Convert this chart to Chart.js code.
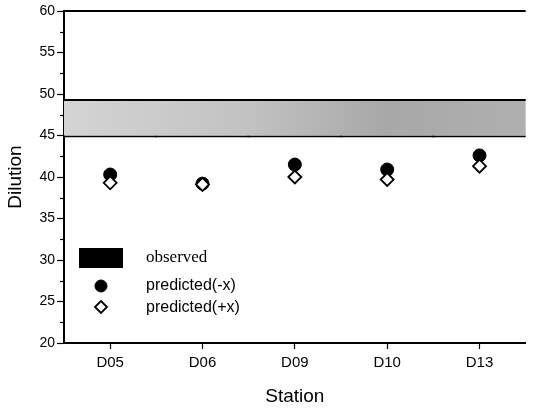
<!DOCTYPE html>
<html lang="en">
<head>
  <meta charset="UTF-8" />
  <title>Dilution by Station</title>
  <script src="https://cdn.jsdelivr.net/npm/chart.js"></script>
  <style>
    html, body { margin: 0; padding: 0; background: #fff; }
    #wrap { width: 534px; height: 409px; }
  </style>
</head>
<body>
  <div id="wrap"><canvas id="dilutionChart" width="534" height="409"></canvas></div>

  <script>
    // data
    const stations = ['D05', 'D06', 'D09', 'D10', 'D13'];
    const predictedMinus = [40.3, 39.2, 41.5, 40.9, 42.6];
    const predictedPlus = [39.3, 39.1, 40.0, 39.7, 41.3];
    const observedLow = 44.75;
    const observedHigh = 49.4;
    const yTicks = [20, 25, 30, 35, 40, 45, 50, 55, 60];
    const yMinorTicks = [22.5, 27.5, 32.5, 37.5, 42.5, 47.5, 52.5, 57.5];
    const legendLabels = ['observed', 'predicted(-x)', 'predicted(+x)'];

    const SANS = '"Liberation Sans", Arial, Helvetica, sans-serif';
    const SERIF = '"Liberation Serif", "Times New Roman", serif';

    function bandFill(context) {
      const area = context.chart.chartArea;
      if (!area) return '#bbb';
      const g = context.chart.ctx.createLinearGradient(area.left, 0, area.right, 0);
      g.addColorStop(0, '#d4d4d4');
      g.addColorStop(0.4, '#c2c2c2');
      g.addColorStop(0.7, '#a8a8a8');
      g.addColorStop(1, '#b0b0b0');
      return g;
    }

    // top frame line, minor y ticks and the in-plot legend
    const extras = {
      id: 'extras',
      afterDraw(chart) {
        const ctx = chart.ctx;
        const area = chart.chartArea;
        const y = chart.scales.y;
        ctx.save();
        ctx.strokeStyle = '#000';
        ctx.lineWidth = 2;
        ctx.beginPath();
        ctx.moveTo(area.left, area.top);
        ctx.lineTo(area.right, area.top);
        ctx.stroke();

        ctx.lineWidth = 1.2;
        yMinorTicks.forEach(v => {
          const py = Math.round(y.getPixelForValue(v)) + 0.5;
          ctx.beginPath();
          ctx.moveTo(area.left - 4, py);
          ctx.lineTo(area.left, py);
          ctx.stroke();
        });

        // legend
        const lx = area.left + 37;
        const tx = area.left + 82;
        const rows = [258, 286, 307];
        ctx.fillStyle = '#000';
        ctx.fillRect(area.left + 15, rows[0] - 10, 44, 20);

        ctx.textBaseline = 'middle';
        ctx.textAlign = 'left';
        ctx.font = '17px ' + SERIF;
        ctx.fillText(legendLabels[0], tx, rows[0]);
        ctx.font = '16px ' + SANS;
        ctx.fillText(legendLabels[1], tx, rows[1]);
        ctx.fillText(legendLabels[2], tx, rows[2] + 1);

        ctx.fillStyle = '#000';
        ctx.strokeStyle = '#000';
        ctx.lineWidth = 1;
        Chart.helpers.drawPoint(ctx, { pointStyle: 'circle', radius: 6, borderWidth: 1 }, lx, rows[1]);
        ctx.fillStyle = '#fff';
        ctx.lineWidth = 1.8;
        Chart.helpers.drawPoint(ctx, { pointStyle: 'rectRot', radius: 6, borderWidth: 1.8 }, lx, rows[2]);
        ctx.restore();
      }
    };

    const ctx = document.getElementById('dilutionChart').getContext('2d');
    new Chart(ctx, {
      type: 'bar',
      data: {
        labels: stations,
        datasets: [
          {
            type: 'line',
            label: legendLabels[2],
            data: predictedPlus,
            showLine: false,
            pointStyle: 'rectRot',
            pointRadius: 6.5,
            pointBackgroundColor: '#fff',
            pointBorderColor: '#000',
            pointBorderWidth: 1.8,
            order: 0
          },
          {
            type: 'line',
            label: legendLabels[1],
            data: predictedMinus,
            showLine: false,
            pointStyle: 'circle',
            pointRadius: 6.5,
            pointBackgroundColor: '#000',
            pointBorderColor: '#000',
            pointBorderWidth: 1,
            order: 1
          },
          {
            label: legendLabels[0],
            data: stations.map(() => [observedLow, observedHigh]),
            backgroundColor: bandFill,
            borderColor: '#000',
            borderWidth: { top: 2, bottom: 2, left: 0, right: 0 },
            borderSkipped: false,
            barPercentage: 1.03,
            categoryPercentage: 1,
            order: 2
          }
        ]
      },
      options: {
        responsive: false,
        animation: false,
        events: [],
        layout: { padding: { left: 0, right: 1, top: 11, bottom: 0 } },
        plugins: { legend: { display: false }, tooltip: { enabled: false } },
        scales: {
          x: {
            offset: true,
            grid: { display: true, offset: false, drawOnChartArea: false, tickLength: 6, tickColor: '#000', tickWidth: 1.2 },
            border: { color: '#000', width: 2 },
            ticks: { color: '#000', padding: 5, font: { family: SANS, size: 15 } },
            title: { display: true, text: 'Station', color: '#000', padding: { top: 0, bottom: 1 }, font: { family: SANS, size: 19 } },
            afterFit: s => { s.height = 66; }
          },
          y: {
            min: 20,
            max: 60,
            afterBuildTicks: s => { s.ticks = yTicks.map(v => ({ value: v })); },
            grid: { display: true, drawOnChartArea: false, tickLength: 7, tickColor: '#000', tickWidth: 1.2 },
            border: { color: '#000', width: 2 },
            ticks: { color: '#000', padding: 2, font: { family: SANS, size: 14 } },
            title: { display: true, text: 'Dilution', color: '#000', padding: { top: 4, bottom: 0 }, font: { family: SANS, size: 19 } },
            afterFit: s => { s.width = 64; }
          }
        }
      },
      plugins: [extras]
    });
  </script>
</body>
</html>
